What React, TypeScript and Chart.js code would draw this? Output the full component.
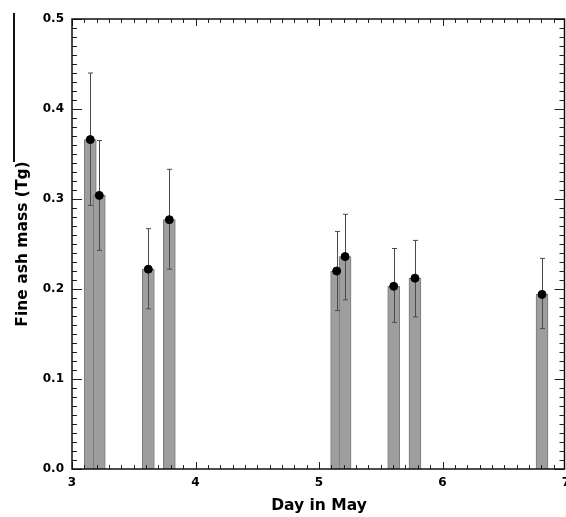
import React, { useEffect, useRef } from 'react';
import { Chart, registerables } from 'chart.js';

Chart.register(...registerables);

// Day in May (x) for each retrieval
const days = [3.148, 3.221, 3.618, 3.788, 5.143, 5.211, 5.605, 5.777, 6.806];
// Fine ash mass (Tg)
const mass = [0.366, 0.304, 0.222, 0.277, 0.220, 0.236, 0.203, 0.212, 0.194];
// Error bar limits (Tg)
const errLow = [0.293, 0.243, 0.178, 0.222, 0.176, 0.188, 0.163, 0.169, 0.156];
const errHigh = [0.440, 0.365, 0.267, 0.333, 0.264, 0.283, 0.245, 0.254, 0.234];

const xMin = 3;
const xMax = 7;
const yMin = 0;
const yMax = 0.5;
const xTitle = 'Day in May';
const yTitle = 'Fine ash mass (Tg)';

const FONT = 'DejaVu Sans';

const decorPlugin = {
  id: 'decor',
  afterDatasetDraw(chart: any, args: any) {
    if (args.index !== 1) return; // after bars, before dots
    const { ctx } = chart;
    const x = chart.scales.x;
    const y = chart.scales.y;
    ctx.save();
    ctx.strokeStyle = '#4a4a4a';
    ctx.lineWidth = 1;
    days.forEach((d, i) => {
      const px = Math.round(x.getPixelForValue(d)) + 0.5;
      const top = y.getPixelForValue(errHigh[i]);
      const bot = y.getPixelForValue(errLow[i]);
      ctx.beginPath();
      ctx.moveTo(px, top);
      ctx.lineTo(px, bot);
      ctx.moveTo(px - 2.5, top);
      ctx.lineTo(px + 2.5, top);
      ctx.moveTo(px - 2.5, bot);
      ctx.lineTo(px + 2.5, bot);
      ctx.stroke();
    });
    ctx.restore();
  },
  afterDraw(chart: any) {
    const { ctx, chartArea } = chart;
    const { left, right, top, bottom } = chartArea;
    const x = chart.scales.x;
    const y = chart.scales.y;
    ctx.save();
    ctx.strokeStyle = '#222';
    ctx.lineWidth = 1;
    ctx.beginPath();
    // y ticks every 0.01, major every 0.1
    for (let i = 0; i <= 50; i++) {
      const py = Math.round(y.getPixelForValue(i / 100)) + 0.5;
      const len = i % 10 === 0 ? 10 : 5;
      ctx.moveTo(left, py);
      ctx.lineTo(left + len, py);
      ctx.moveTo(right - 1.5, py);
      ctx.lineTo(right - 1.5 - len, py);
    }
    // x ticks every 0.1, major every 1
    for (let i = 30; i <= 70; i++) {
      const px = Math.round(x.getPixelForValue(i / 10)) + 0.5;
      const len = i % 10 === 0 ? 7 : 4;
      ctx.moveTo(px, bottom);
      ctx.lineTo(px, bottom - len);
      ctx.moveTo(px, top);
      ctx.lineTo(px, top + len);
    }
    ctx.stroke();
    ctx.strokeStyle = '#111';
    ctx.lineWidth = 1.5;
    ctx.strokeRect(left, top, right - left - 1.5, bottom - top);
    ctx.restore();
  },
};

export default function App() {
  const ref = useRef<HTMLCanvasElement | null>(null);

  useEffect(() => {
    if (!ref.current) return;
    Chart.defaults.font.family = FONT;
    Chart.defaults.color = '#000';
    const chart = new Chart(ref.current, {
      type: 'bar',
      data: {
        datasets: [
          {
            type: 'scatter',
            data: days.map((d, i) => ({ x: d, y: mass[i] })),
            backgroundColor: '#000',
            borderColor: '#000',
            pointRadius: 4,
            pointHoverRadius: 4,
          } as any,
          {
            type: 'bar',
            data: days.map((d, i) => ({ x: d, y: mass[i] })),
            backgroundColor: '#9e9e9e',
            borderColor: '#7a7a7a',
            borderWidth: 1,
            barThickness: 12,
          } as any,
        ],
      },
      options: {
        animation: false,
        responsive: false,
        layout: { autoPadding: false, padding: { top: 19, right: 0, left: 0, bottom: 0 } },
        plugins: { legend: { display: false }, tooltip: { enabled: false } },
        scales: {
          x: {
            type: 'linear',
            offset: false,
            min: xMin,
            max: xMax,
            grid: { display: false, drawTicks: false, tickLength: 0 },
            border: { display: false },
            ticks: {
              stepSize: 1,
              padding: 7,
              maxRotation: 0,
              font: { family: FONT, size: 12, weight: 'bold' },
              color: '#000',
              callback: (v: any) => String(v),
            },
            title: {
              display: true,
              text: xTitle,
              font: { family: FONT, size: 15.5, weight: 'bold' },
              color: '#000',
              padding: { top: 0, bottom: 2 },
            },
            afterFit: (s: any) => {
              s.height = 48;
              s.paddingLeft = 0;
              s.paddingRight = 0;
            },
          },
          y: {
            type: 'linear',
            min: yMin,
            max: yMax,
            grid: { display: false, drawTicks: false, tickLength: 0 },
            border: { display: false },
            ticks: {
              stepSize: 0.1,
              padding: 8,
              font: { family: FONT, size: 12, weight: 'bold' },
              color: '#000',
              callback: (v: any) => Number(v).toFixed(1),
            },
            title: {
              display: true,
              text: yTitle,
              font: { family: FONT, size: 15.5, weight: 'bold' },
              color: '#000',
              padding: { top: 14, bottom: 0 },
            },
            afterFit: (s: any) => {
              s.width = 72;
            },
          },
        },
      } as any,
      plugins: [decorPlugin],
    });
    return () => chart.destroy();
  }, []);

  return (
    <div style={{ position: 'absolute', left: 0, top: 0, width: 566, height: 517, background: '#fff' }}>
      <canvas ref={ref} width={566} height={517} style={{ display: 'block' }} />
      <div style={{ position: 'absolute', left: 13, top: 13, width: 2, height: 149, background: '#111' }} />
    </div>
  );
}
